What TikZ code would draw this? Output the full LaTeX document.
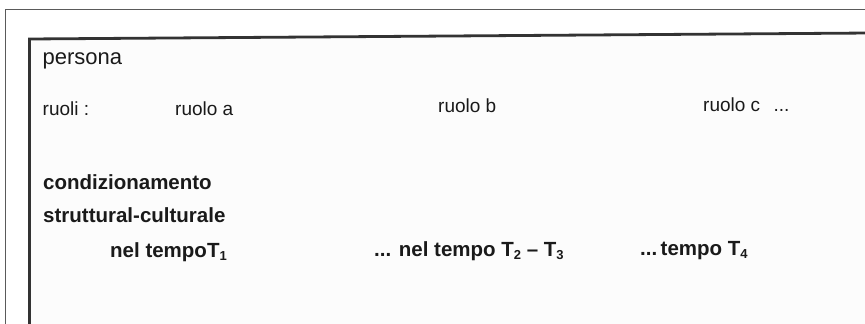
\documentclass[tikz,border=0pt]{standalone}
\usepackage{fontspec}
\setmainfont{Liberation Sans}
\definecolor{outerline}{HTML}{5A5A5A}
\definecolor{innerline}{HTML}{333333}
\definecolor{innerfill}{HTML}{FCFCFC}
\definecolor{txt}{HTML}{1A1A1A}
\newcommand{\sbs}[1]{\raisebox{-0.3ex}{\fontsize{13}{14}\selectfont #1}}
\begin{document}
\begin{tikzpicture}[x=1pt,y=-1pt,
  lbl/.style={anchor=base west,inner sep=0pt,text=txt,font=\fontsize{19}{21}\selectfont},
  title/.style={lbl,font=\fontsize{22}{24}\selectfont},
  boldlbl/.style={lbl,font=\fontsize{20.5}{23}\selectfont\bfseries}]
\useasboundingbox (0,0) rectangle (865,324);
\fill[white] (0,0) rectangle (865,324);
% outer frame
\draw[outerline,line width=1.4pt] (5.7,330) -- (5.7,9.2) -- (870,9.2);
% inner frame
\fill[innerfill] (29.5,330) -- (29.5,39) -- (870,33) -- (870,330) -- cycle;
\draw[innerline,line width=2.8pt] (29.5,330) -- (29.5,39) -- (870,33);
% texts
\node[title] (persona) at (42.5,64.5) {persona};
\node[lbl] (ruoli) at (42.5,115.5) {ruoli :};
\node[lbl] (ruoloa) at (175,115.5) {ruolo a};
\node[lbl] (ruolob) at (438,112.5) {ruolo b};
\node[lbl] (ruoloc) at (703,111) {ruolo c\hspace{0.7em}...};
\node[boldlbl] (cond) at (43,189) {condizionamento};
\node[boldlbl] (strut) at (43,222.5) {struttural-culturale};
\node[boldlbl] (t1) at (110,257) {nel tempoT\sbs{1}};
\node[boldlbl] (t23) at (374,256) {... nel tempo T\sbs{2} -- T\sbs{3}};
\node[boldlbl] (t4) at (640,255) {...\,tempo T\sbs{4}};
\end{tikzpicture}
\end{document}
